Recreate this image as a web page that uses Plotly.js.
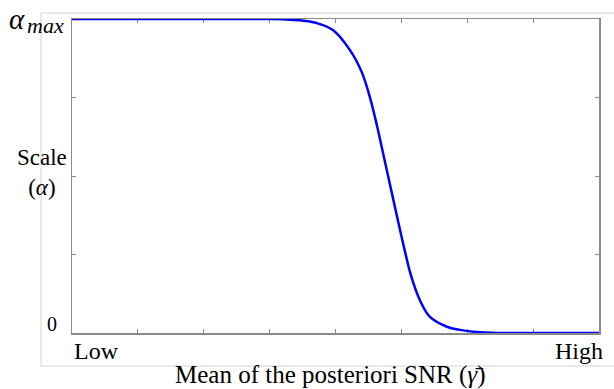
<!DOCTYPE html>
<html>
<head>
<meta charset="utf-8">
<script src="https://cdn.plot.ly/plotly-3.0.1.min.js"></script>
</head>
<body style="margin:0">
<div id="chart" style="width:614px;height:389px"></div>
<script>
// Data (x: SNR position on 0..8 grid, y: scale as fraction of alpha_max)
var snrX = [0, 1, 2, 3, 3.2, 3.46, 3.7, 3.96, 4.22, 4.40, 4.53, 4.63, 4.73, 4.83, 4.93, 5.03, 5.15, 5.28, 5.43, 5.69, 5.89, 6.2, 6.5, 7, 8];
var scaleY = [1, 1, 1, 1, 0.999, 0.996, 0.988, 0.965, 0.901, 0.830, 0.745, 0.660, 0.565, 0.470, 0.375, 0.282, 0.180, 0.105, 0.052, 0.020, 0.010, 0.002, 0, 0, 0];
var xTickVals = [1, 2, 3, 4, 5, 6, 7];
var yTickVals = [0.25, 0.5, 0.75];
var xEndLabels = ["Low", "High"];
var yLabels = ["0", "Scale<br>(<i>α</i>)"];
var xTitle = "Mean of the posteriori SNR (<i>γ̄</i>)";

var W = 614, H = 389, L = 72, R = 15, T = 19, B = 56;
var pw = W - L - R, ph = H - T - B;
function px(x) { return (x - L) / pw; }
function py(y) { return (H - B - y) / ph; }

var serif = "Times New Roman";
var axisCol = "#8a8a8a";

var trace = {
  x: snrX, y: scaleY, type: "scatter", mode: "lines",
  line: {color: "#0000ff", width: 2.5, shape: "spline", smoothing: 1},
  hoverinfo: "skip"
};

function ann(x, y, xa, text, size) {
  return {xref: "paper", yref: "paper", x: px(x), y: py(y), xanchor: xa, yanchor: "middle", showarrow: false,
          text: text, font: {family: serif, size: size, color: "#000"}};
}

var layout = {
  width: W, height: H,
  margin: {l: L, r: R, t: T, b: B, pad: 0},
  paper_bgcolor: "#fff", plot_bgcolor: "#fff",
  showlegend: false,
  xaxis: {range: [0, 8], tickvals: xTickVals, ticks: "inside", ticklen: 4, tickcolor: axisCol, tickwidth: 1,
          showticklabels: false, showgrid: false, zeroline: false, showline: true, linecolor: axisCol, linewidth: 1.5,
          mirror: "ticks", layer: "below traces", fixedrange: true},
  yaxis: {range: [0, 1], tickvals: yTickVals, ticks: "inside", ticklen: 4, tickcolor: axisCol, tickwidth: 1,
          showticklabels: false, showgrid: false, zeroline: false, showline: true, linecolor: axisCol, linewidth: 1.5,
          mirror: "ticks", layer: "below traces", fixedrange: true},
  shapes: [{type: "rect", xref: "paper", yref: "paper", x0: px(41), x1: px(630), y0: py(366), y1: py(13),
            line: {color: "#d4d4d4", width: 1}, layer: "below"}],
  annotations: [
    ann(7, 19, "left", "<i>α</i>", 29),
    ann(25, 25, "left", "<i>max</i>", 22),
    ann(42, 172, "center", yLabels[1], 23),
    ann(52, 324, "center", yLabels[0], 20),
    ann(72, 351, "left", xEndLabels[0], 24),
    ann(605, 351, "right", xEndLabels[1], 24),
    ann(330, 375, "center", xTitle, 25)
  ]
};

Plotly.newPlot("chart", [trace], layout, {staticPlot: true});
</script>
</body>
</html>
